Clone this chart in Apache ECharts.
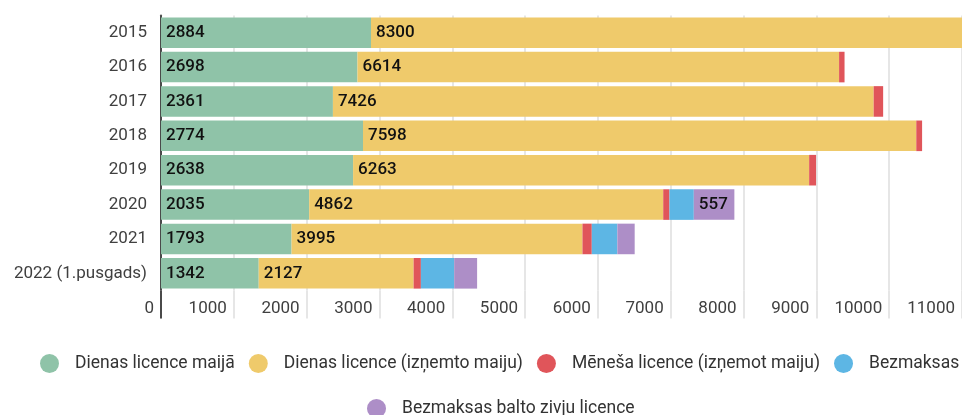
<!DOCTYPE html>
<html>
<head>
<meta charset="utf-8">
<script src="https://cdn.jsdelivr.net/npm/echarts@6/dist/echarts.min.js"></script>
<style>
  html, body { margin: 0; padding: 0; background: #fff; }
  #chart_ctn { width: 962px; height: 415px; }
</style>
</head>
<body>
<div id="chart_ctn"></div>
<script>
var categories = ['2015', '2016', '2017', '2018', '2019', '2020', '2021', '2022 (1.pusgads)'];
var seriesNames = ['Dienas licence maijā', 'Dienas licence (izņemto maiju)', 'Mēneša licence (izņemot maiju)', 'Bezmaksas', 'Bezmaksas balto zivju licence'];
// values
var dienasMaija = [2884, 2698, 2361, 2774, 2638, 2035, 1793, 1342];
var dienasCitas = [8300, 6614, 7426, 7598, 6263, 4862, 3995, 2127];
var menesa = [100, 75, 130, 80, 95, 86, 128, 100];
var bezmaksas = [0, 0, 0, 0, 0, 334, 351, 457];
var baltoZivju = [0, 0, 0, 0, 0, 557, 238, 315];

var colors = ['#8fc3a8', '#efca6b', '#e0555a', '#5db6e4', '#ad8ec7'];
var textColor = '#404040';
var gridColor = '#dedede';
var axisColor = '#4a4a4a';
var fontFamily = 'Roboto, sans-serif';

function barLabel(minShow) {
    return {
        show: true,
        position: 'insideLeft',
        distance: 5,
        color: '#111',
        fontFamily: fontFamily,
        fontSize: 17,
        fontWeight: 500,
        formatter: function (p) {
            return p.value >= minShow ? p.value : '';
        }
    };
}

var allData = [dienasMaija, dienasCitas, menesa, bezmaksas, baltoZivju];
var labelMin = [1, 1, Infinity, Infinity, 500];

var series = seriesNames.map(function (name, i) {
    return {
        name: name,
        type: 'bar',
        stack: 'total',
        barCategoryGap: '11%',
        data: allData[i],
        itemStyle: { color: colors[i] },
        label: barLabel(labelMin[i]),
        emphasis: { disabled: true }
    };
});

function legendRow(names, left, top) {
    return {
        top: top,
        left: left,
        padding: 0,
        icon: 'circle',
        itemWidth: 21,
        itemHeight: 19,
        itemGap: 14,
        textStyle: {
            color: '#333',
            fontSize: 17.5,
            fontFamily: fontFamily,
            padding: [0, 0, 0, 10]
        },
        data: names
    };
}

var option = {
    animation: false,
    textStyle: { fontFamily: fontFamily },
    grid: {
        left: 161,
        right: -2,
        top: 15.5,
        bottom: 124.5
    },
    legend: [
        legendRow(seriesNames.slice(0, 4), 40, 354),
        legendRow(seriesNames.slice(4), 367, 399)
    ],
    xAxis: [{
        type: 'value',
        min: 0,
        max: 11000,
        interval: 1000,
        axisLine: { show: false },
        axisTick: {
            show: true,
            length: 28,
            lineStyle: { color: gridColor, width: 1.5 }
        },
        splitLine: {
            show: true,
            lineStyle: { color: gridColor, width: 1.5 }
        },
        axisLabel: {
            align: 'right',
            margin: 10,
            padding: [0, 7, 0, 0],
            formatter: function (v) { return String(v); },
            color: textColor,
            fontSize: 17,
            fontFamily: fontFamily
        }
    }, {
        // only used to run the y axis line down past the bars
        type: 'value',
        min: 0,
        max: 11000,
        position: 'bottom',
        axisLine: { show: false },
        axisLabel: { show: false },
        splitLine: { show: false },
        axisTick: {
            show: true,
            customValues: [0],
            length: 28,
            lineStyle: { color: axisColor, width: 2 }
        }
    }],
    yAxis: {
        type: 'category',
        inverse: true,
        data: categories,
        axisLine: {
            show: true,
            lineStyle: { color: axisColor, width: 2 }
        },
        axisTick: { show: false },
        axisLabel: {
            margin: 14,
            color: textColor,
            fontSize: 17,
            fontFamily: fontFamily
        }
    },
    series: series
};

var myChart = echarts.init(document.getElementById('chart_ctn'));
myChart.setOption(option);
</script>
</body>
</html>
